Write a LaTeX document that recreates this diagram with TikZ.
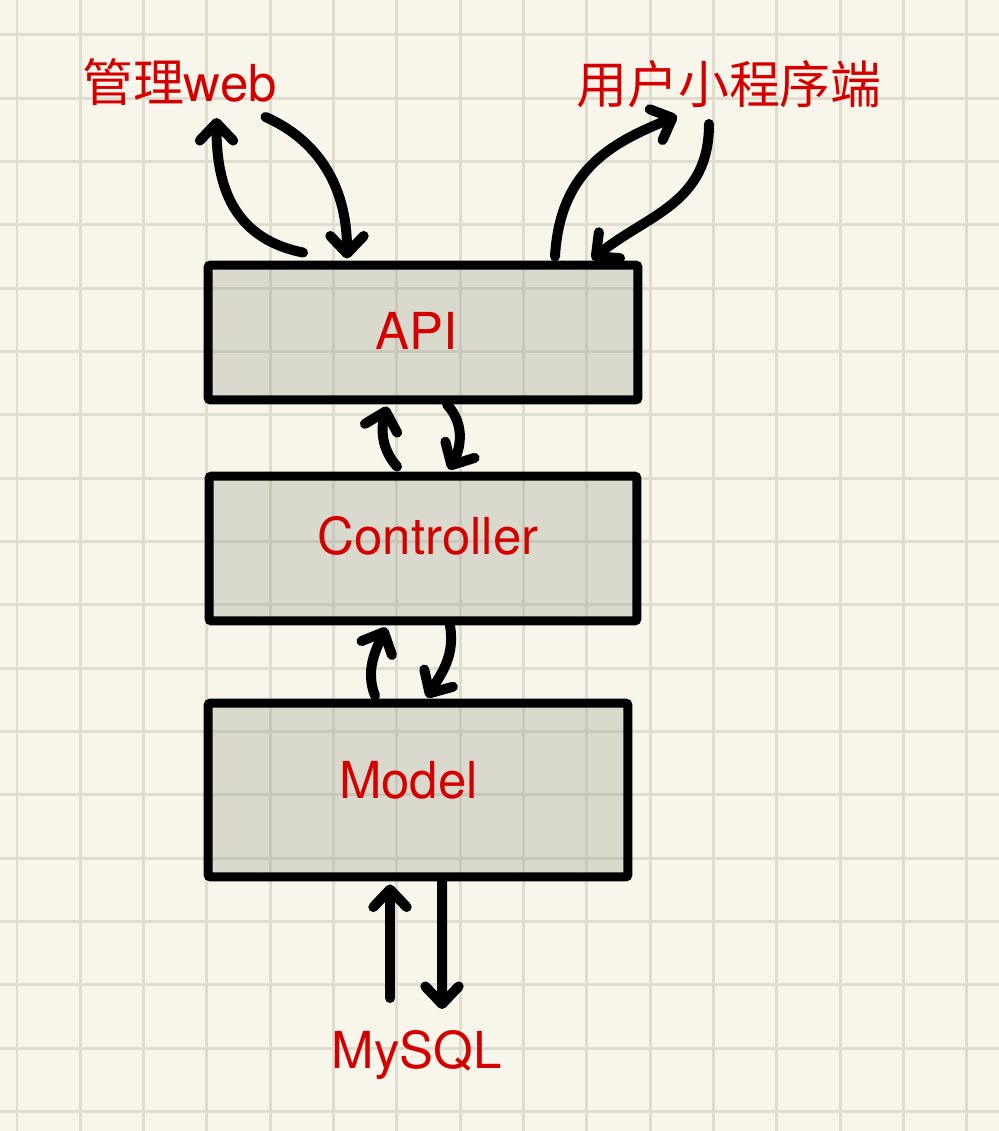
\documentclass[tikz,border=0pt]{standalone}
\usepackage{fontspec}
\setmainfont{TeX Gyre Heros}
\newfontfamily\cjk{Noto Sans CJK SC}
\usetikzlibrary{arrows.meta}
\usetikzlibrary{calc}
\definecolor{paper}{RGB}{248,246,234}
\definecolor{gridc}{RGB}{222,221,208}
\definecolor{boxc}{RGB}{140,142,130}
\definecolor{mred}{RGB}{212,0,0}
\tikzset{gridline/.style = {gridc, line width=0.06cm},
         layer/.style = {draw, line width=0.18cm, fill=boxc, fill opacity=0.27,
                         rounded corners=1.5pt, inner sep=0pt},
         lbl/.style = {text=mred, font=\fontsize{29}{34}\selectfont, anchor=base, inner sep=0pt},
         wire/.style = {line width=0.2cm, line cap=round,
                        -{Straight Barb[round, length=10pt, width=19pt]}}}

\begin{document}
\begin{tikzpicture}[x=0.02cm, y=-0.02cm]
    \useasboundingbox (0,0) rectangle (999,1131);
    \fill [paper] (0,0) rectangle (999,1131);
    \foreach \i in {0,...,15}
      \draw [gridline] ({17+63.33*\i},0) -- ({17+63.33*\i},1131);
    \foreach \i in {0,...,17}
      \draw [gridline] (0,{35+63.33*\i}) -- (999,{35+63.33*\i});

    \node [layer, minimum width=8.6cm, minimum height=2.7cm] (api) at (423,332.5) {};
    \node [layer, minimum width=8.56cm, minimum height=2.9cm] (ctl) at (423,548.5) {};
    \node [layer, minimum width=8.4cm, minimum height=3.48cm] (mdl) at (418,790) {};

    \node [lbl] (apitxt) at (417,350) {API};
    \node [lbl] (ctltxt) at (428,554) {Controller};
    \node [lbl] (mdltxt) at (408.5,798) {Model};
    \node [lbl] (mysql) at (416.5,1068) {MySQL};
    \node [lbl] (web) at (179.5,102) {{\cjk 管理}web};
    \node [lbl] (mini) at (729,104) {\cjk 用户小程序端};

    \draw [wire] ($(api.north)+(-120,-8)$) .. controls +(-75,-15) and +(0,60) .. ($(web.base)+(37,16)$);
    \draw [wire] ($(web.base)+(86,15)$) .. controls +(50,22) and +(0,-75) .. ($(api.north)+(-76,-2)$);
    \draw [wire] ($(api.north)+(132,-4)$) .. controls +(5,-90) and +(-60,25) .. ($(mini.base)+(-52,12)$);
    \draw [wire] ($(mini.base)+(-20,20)$) .. controls +(0,80) and +(55,-45) .. ($(api.north)+(169,-1)$);

    \draw [wire] ($(ctl.north)+(-26,-5)$) .. controls +(-16,-18) and +(-6,22) .. ($(api.south)+(-36,2)$);
    \draw [wire] ($(api.south)+(24,0)$) .. controls +(20,22) and +(10,-18) .. ($(ctl.north)+(26,-2)$);
    \draw [wire] ($(mdl.north)+(-43,-3)$) .. controls +(-10,-25) and +(-10,22) .. ($(ctl.south)+(-37,2)$);
    \draw [wire] ($(ctl.south)+(27,0)$) .. controls +(5,30) and +(15,-25) .. ($(mdl.north)+(9,-1)$);

    \draw [wire] ($(mysql.base)+(-26.5,-70)$) -- ($(mdl.south)+(-28,3)$);
    \draw [wire] ($(mdl.south)+(24,0)$) -- ($(mysql.base)+(25.5,-59)$);
  \end{tikzpicture}
\end{document}
